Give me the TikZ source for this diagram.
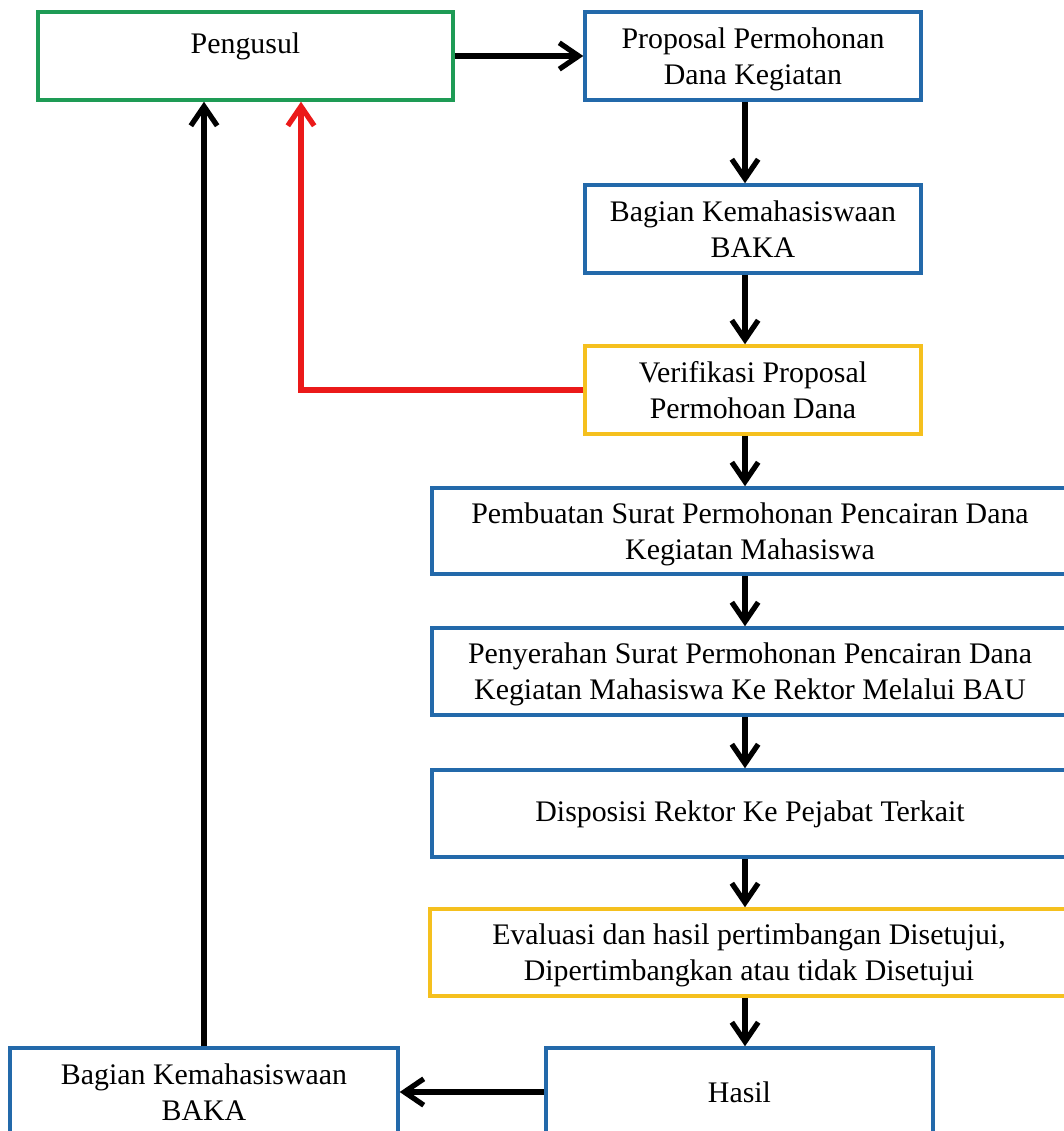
\documentclass[tikz,border=0pt]{standalone}
\usepackage{fontspec}
\setmainfont{Liberation Serif}
\usepackage{tikz}
\usetikzlibrary{arrows.meta}
\definecolor{boxgreen}{RGB}{30, 155, 85}
\definecolor{boxblue}{RGB}{35, 105, 170}
\definecolor{boxyellow}{RGB}{245, 192, 30}
\definecolor{backred}{RGB}{235, 25, 25}

\begin{document}
\begin{tikzpicture}[
    x=0.02cm, y=-0.02cm,
    box/.style={draw, line width=2pt, minimum height=1.76cm, inner sep=0pt, align=center, text depth=0pt, font=\fontsize{17}{20.5}\selectfont},
    flow/.style={-{Straight Barb[length=11pt, width=15pt]}, line width=3pt}
]
    \useasboundingbox (0,0) rectangle (1063,1131);

    \node[box, draw=boxgreen, minimum width=8.3cm, text depth=15pt] (peng) at (245.5,56) {Pengusul};
    \node[box, draw=boxblue, minimum width=6.72cm] (prop) at (753,56) {Proposal Permohonan\\Dana Kegiatan};
    \node[box, draw=boxblue, minimum width=6.72cm] (baka) at (753,229) {Bagian Kemahasiswaan\\BAKA};
    \node[box, draw=boxyellow, minimum width=6.72cm] (verif) at (753,390) {Verifikasi Proposal\\Permohoan Dana};

    \node[box, draw=boxblue, minimum width=12.72cm, minimum height=1.72cm] (pemb) at (750,531) {Pembuatan Surat Permohonan Pencairan Dana\\Kegiatan Mahasiswa};
    \node[box, draw=boxblue, minimum width=12.72cm, minimum height=1.74cm] (peny) at (750,671.5) {Penyerahan Surat Permohonan Pencairan Dana\\Kegiatan Mahasiswa Ke Rektor Melalui BAU};
    \node[box, draw=boxblue, minimum width=12.72cm, minimum height=1.74cm, text depth=3pt] (disp) at (750,813.5) {Disposisi Rektor Ke Pejabat Terkait};
    \node[box, draw=boxyellow, minimum width=12.76cm, minimum height=1.74cm] (eval) at (749,952.5) {Evaluasi dan hasil pertimbangan Disetujui,\\Dipertimbangkan atau tidak Disetujui};

    \node[box, draw=boxblue, minimum width=7.74cm] (hasil) at (739.5,1092) {Hasil};
    \node[box, draw=boxblue, minimum width=7.76cm] (baka2) at (204,1092) {Bagian Kemahasiswaan\\BAKA};

    % main line down the right side
    \coordinate (spine) at (745,0);
    \draw[flow] (peng.east) -- (prop.west);
    \draw[flow] (prop.south -| spine) -- (baka.north -| spine);
    \draw[flow] (baka.south -| spine) -- (verif.north -| spine);
    \draw[flow] (verif.south -| spine) -- (pemb.north -| spine);
    \draw[flow] (pemb.south -| spine) -- (peny.north -| spine);
    \draw[flow] (peny.south -| spine) -- (disp.north -| spine);
    \draw[flow] (disp.south -| spine) -- (eval.north -| spine);
    \draw[flow] (eval.south -| spine) -- (hasil.north -| spine);

    % back to the proposer
    \draw[flow] (hasil.west) -- (baka2.east);
    \draw[flow] (baka2.north) -- (peng.south -| baka2.north);
    \coordinate (bend) at (301,390);
    \draw[flow, color=backred] (verif.west) -- (bend) -- (peng.south -| bend);
\end{tikzpicture}
\end{document}
